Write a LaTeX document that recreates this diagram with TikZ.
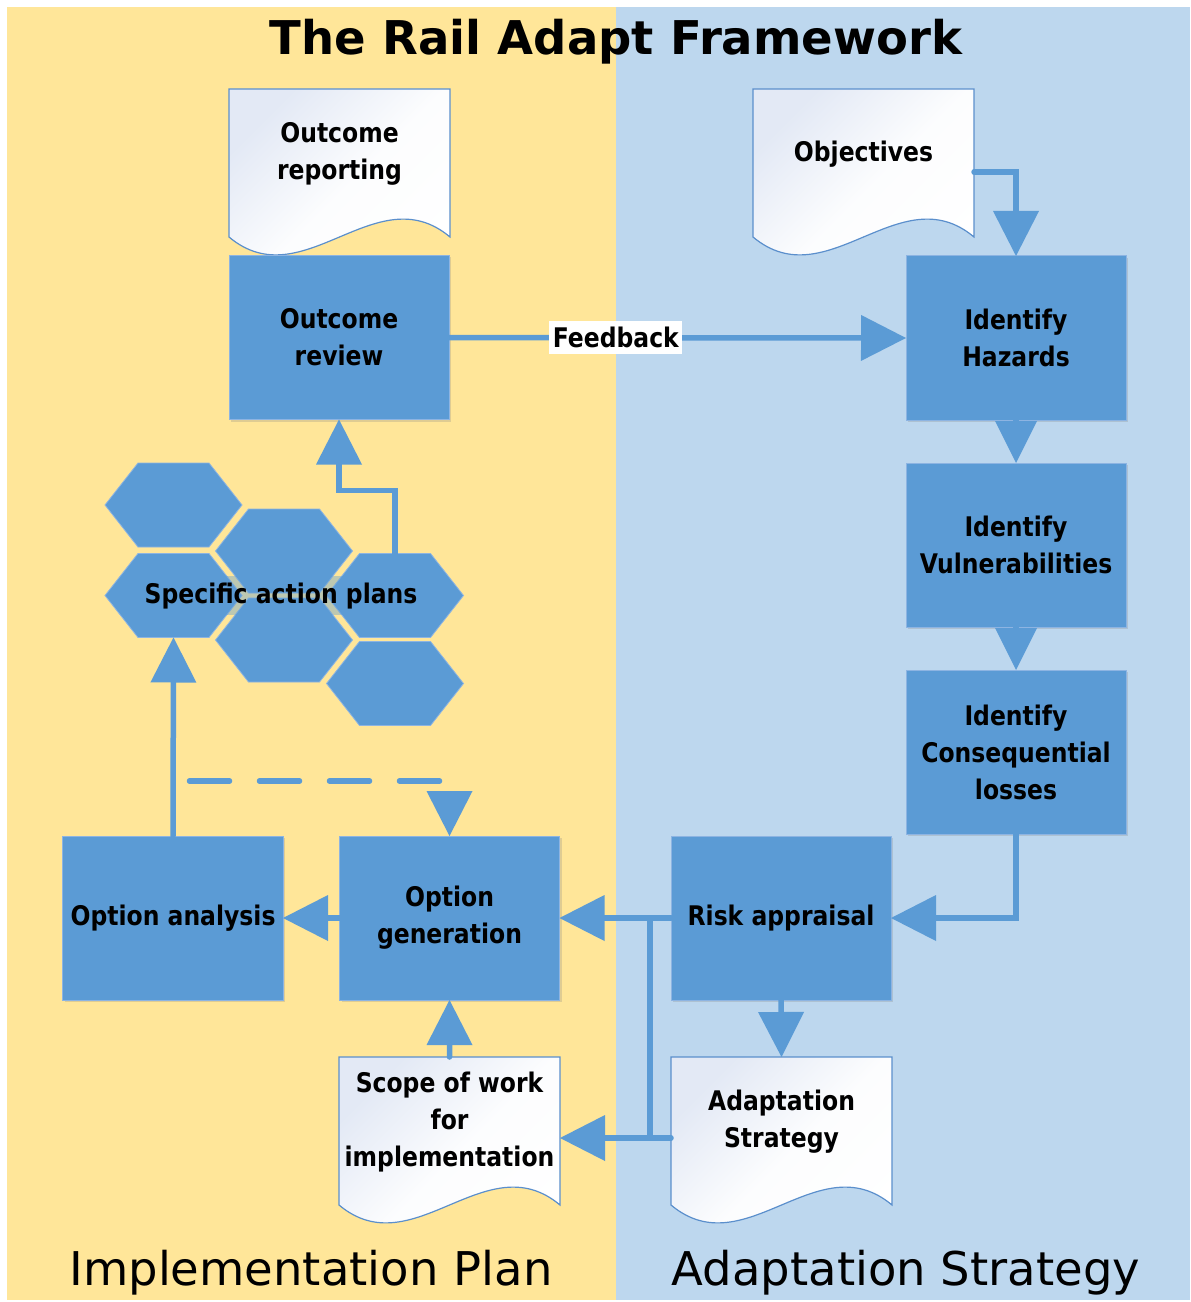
\documentclass[tikz,border=0pt]{standalone}
\usepackage{fontspec}
\setmainfont{DejaVu Sans}
\newfontfamily\boxfont[FakeStretch=0.87]{DejaVu Sans}
\usetikzlibrary{arrows.meta,shadows,calc}
\definecolor{panelY}{HTML}{FFE699}
\definecolor{panelB}{HTML}{BDD7EE}
\definecolor{boxblue}{HTML}{5B9BD5}
\definecolor{boxedge}{HTML}{8DB4E2}
\definecolor{docedge}{HTML}{5B8FCC}
\definecolor{doctop}{HTML}{E3E9F5}
\newcommand\docnode[4]{%
  \path[docshape] (#2,#3) -- (#2,#3+148) .. controls (#2+74,#3+210) and (#2+147,#3+86) .. (#2+221,#3+148) -- (#2+221,#3) -- cycle;
  \node[doctext] (#1) at (#2,#3) {#4};}
\newcommand\hexa[3]{%
  \path[hexstyle] (#2-68.5,#3) -- (#2-35.5,#3-42) -- (#2+35.5,#3-42) -- (#2+68.5,#3) -- (#2+35.5,#3+42) -- (#2-35.5,#3+42) -- cycle;
  \coordinate (#1) at (#2,#3);
  \coordinate (#1t) at (#2,#3-42);
  \coordinate (#1b) at (#2,#3+42);}
\begin{document}
\begin{tikzpicture}[x=1bp,y=-1bp,
  every node/.style={inner sep=0pt, outer sep=0pt},
  btxt/.style={font=\boxfont\bfseries\fontsize{27bp}{37bp}\selectfont, align=center, text=black},
  bluebox/.style={btxt, fill=boxblue, draw=boxedge, line width=1bp, minimum width=220bp, minimum height=164bp,
     drop shadow={shadow xshift=2bp, shadow yshift=-2bp, opacity=0.25}},
  doctext/.style={btxt, minimum width=221bp, minimum height=130bp, anchor=north west},
  docshape/.style={draw=docedge, line width=1.2bp, top color=doctop, bottom color=white, middle color=white!90!doctop, shading angle=45},
  hexstyle/.style={fill=boxblue, draw=boxedge, line width=0.8bp},
  conn/.style={draw=boxblue, line width=5.5bp, line cap=round, -{Triangle[width=46bp,length=45bp,line width=0pt]}},
  conntri/.style={draw=boxblue, line width=5.5bp, -{Triangle[width=42bp,length=42bp,line width=0pt]}},
  connline/.style={draw=boxblue, line width=5.5bp},
  dashconn/.style={conn, dash pattern=on 40bp off 30bp},
  paneltitle/.style={font=\fontsize{46.5bp}{50bp}\selectfont, anchor=base}
]
\useasboundingbox (0,0) rectangle (1190,1302);
\fill[white] (0,0) rectangle (1190,1302);
\fill[panelY] (7,7) rectangle (616,1300);
\fill[panelB] (616,7) rectangle (1190,1300);

\node[font=\bfseries\fontsize{46.5bp}{50bp}\selectfont, anchor=base] (title) at (616,55) {The Rail Adapt Framework};
\node[paneltitle] (impl) at (311,1285) {Implementation Plan};
\node[paneltitle] (adstr) at (906,1285) {Adaptation Strategy};

% documents
\docnode{outrep}{229}{89}{Outcome\\reporting}
\docnode{obj}{753}{89}{Objectives}
\docnode{scope}{339}{1057}{Scope of work\\for\\implementation}
\docnode{adapt}{671}{1057}{Adaptation\\Strategy}

% blue process boxes
\node[bluebox] (outrev) at (339,337.5) {Outcome\\review};
\node[bluebox] (haz) at (1016,338) {Identify\\Hazards};
\node[bluebox] (vul) at (1016,545) {Identify\\Vulnerabilities};
\node[bluebox] (cons) at (1016,752) {Identify\\Consequential\\losses};
\node[bluebox] (risk) at (781,918) {Risk appraisal};
\node[bluebox] (og) at (449.5,918) {Option\\generation};
\node[bluebox] (oa) at (173,918) {Option analysis};

% hexagons
\hexa{h1}{173.5}{505}
\hexa{h2}{284}{551}
\hexa{h3}{173.5}{595.5}
\hexa{h4}{395}{595.5}
\hexa{h5}{284}{640}
\hexa{h6}{395}{683.5}
\fill[boxblue, opacity=0.4] (135,576) rectangle (428,615);
\node[btxt] (sap) at (281,596) {Specific action plans};

% connectors
\draw[conn] (outrev.east) -- node[pos=0.365, btxt, fill=white, inner xsep=3.5bp, minimum height=33bp] (fb) {Feedback} (haz.west);
\draw[conn] ([yshift=-83bp]obj.north east) -| (haz.north);
\draw[conntri] (haz.south) -- (vul.north);
\draw[conntri] (vul.south) -- (cons.north);
\draw[conn] (cons.south) |- (risk.east);
\draw[conn] (risk.west) -- (og.east);
\draw[conn] (risk.south) -- (adapt.north);
\coordinate (adl) at ([yshift=-81bp]adapt.north west);
\coordinate (scr) at ([yshift=-81bp]scope.north east);
\draw[conn] (adl) -- (scr);
\coordinate (j1) at ([xshift=-21bp]risk.west);
\draw[connline] (j1) -- (j1 |- adl);
\draw[conn] (og.west) -- (oa.east);
\draw[conn] (scope.north) -- (og.south);
\draw[conn] (oa.north) -- (h3b);
\draw[conn] (h4t) -- ++(0,-63) -| (outrev.south);
\coordinate (dstart) at (189.5,781);
\draw[dashconn] (dstart) -| (og.north);
\end{tikzpicture}
\end{document}
